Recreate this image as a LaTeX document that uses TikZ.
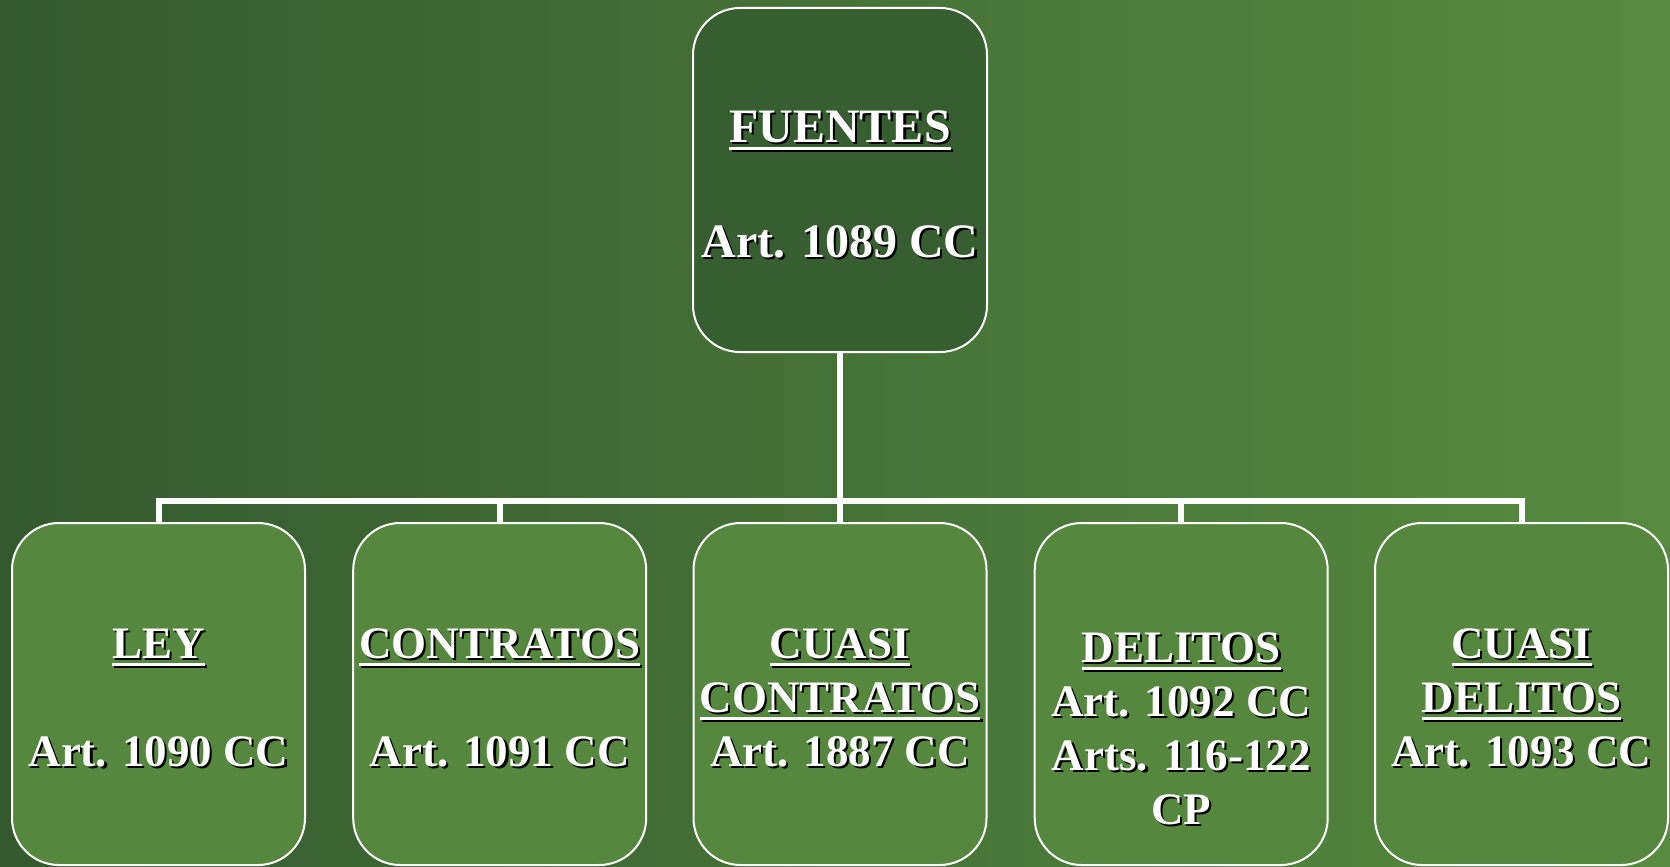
\documentclass[tikz,border=0pt]{standalone}
\usepackage{fontspec}
\setmainfont{Liberation Serif}
\definecolor{bgL}{RGB}{52,89,47}
\definecolor{bgR}{RGB}{87,139,63}
\definecolor{topfill}{RGB}{55,94,49}
\definecolor{boxfill}{RGB}{86,135,62}
\newcommand\shd[1]{\leavevmode\rlap{\kern2.2pt\raisebox{-2.2pt}{\color{black}#1}}#1}
\newlength\ulwd
\newcommand\ulin[1]{\settowidth\ulwd{#1}\rlap{#1}\rule[-8pt]{\ulwd}{3.5pt}}
\newcommand\hd[1]{\shd{\ulin{#1}}}
\tikzset{
  box/.style={draw=white, line width=2pt, rounded corners=47pt, fill=boxfill,
    minimum width=293pt, minimum height=342pt, inner sep=0pt},
  topbox/.style={box, fill=topfill, minimum width=294pt, minimum height=344pt},
  lbl/.style={text=white, inner sep=0pt, anchor=base, font=\bfseries\fontsize{45}{54}\selectfont},
  toplbl/.style={lbl, font=\bfseries\fontsize{48}{57.5}\selectfont},
  conn/.style={draw=white, line width=6pt},
}
\begin{document}
\begin{tikzpicture}[x=1pt,y=-1pt]
\useasboundingbox (0,0) rectangle (1670,867);
\shade[left color=bgL, right color=bgR] (0,0) rectangle (1670,867);
\node[topbox] (fuentes) at (840,180) {};
\node[box] (ley) at (158.5,694) {};
\node[box] (contratos) at (499.7,694) {};
\node[box] (cuasic) at (840,694) {};
\node[box] (delitos) at (1181.2,694) {};
\node[box] (cuasid) at (1521.5,694) {};
\coordinate (bus) at (840,501);
\draw[conn] (fuentes.south) -- (cuasic.north);
\draw[conn] (ley.north) |- (bus) -| (cuasid.north);
\draw[conn] (contratos.north) -- (contratos.north |- bus);
\draw[conn] (delitos.north) -- (delitos.north |- bus);
\node[toplbl] (tfuentes) at (840,142) {\begin{tabular}[t]{@{}c@{}}\hd{FUENTES}\\ \\ \shd{Art. 1089 CC}\end{tabular}};
\node[lbl] (tley) at (158.5,658) {\begin{tabular}[t]{@{}c@{}}\hd{LEY}\\ \\ \shd{Art. 1090 CC}\end{tabular}};
\node[lbl] (tcontratos) at (499.7,658) {\begin{tabular}[t]{@{}c@{}}\hd{CONTRATOS}\\ \\ \shd{Art. 1091 CC}\end{tabular}};
\node[lbl] (tcuasic) at (840,658) {\begin{tabular}[t]{@{}c@{}}\hd{CUASI}\\ \hd{CONTRATOS}\\ \shd{Art. 1887 CC}\end{tabular}};
\node[lbl] (tdelitos) at (1181.2,662) {\begin{tabular}[t]{@{}c@{}}\hd{DELITOS}\\ \shd{Art. 1092 CC}\\ \shd{Arts. 116-122}\\ \shd{CP}\end{tabular}};
\node[lbl] (tcuasid) at (1521.5,658) {\begin{tabular}[t]{@{}c@{}}\hd{CUASI}\\ \hd{DELITOS}\\ \shd{Art. 1093 CC}\end{tabular}};
\end{tikzpicture}
\end{document}
